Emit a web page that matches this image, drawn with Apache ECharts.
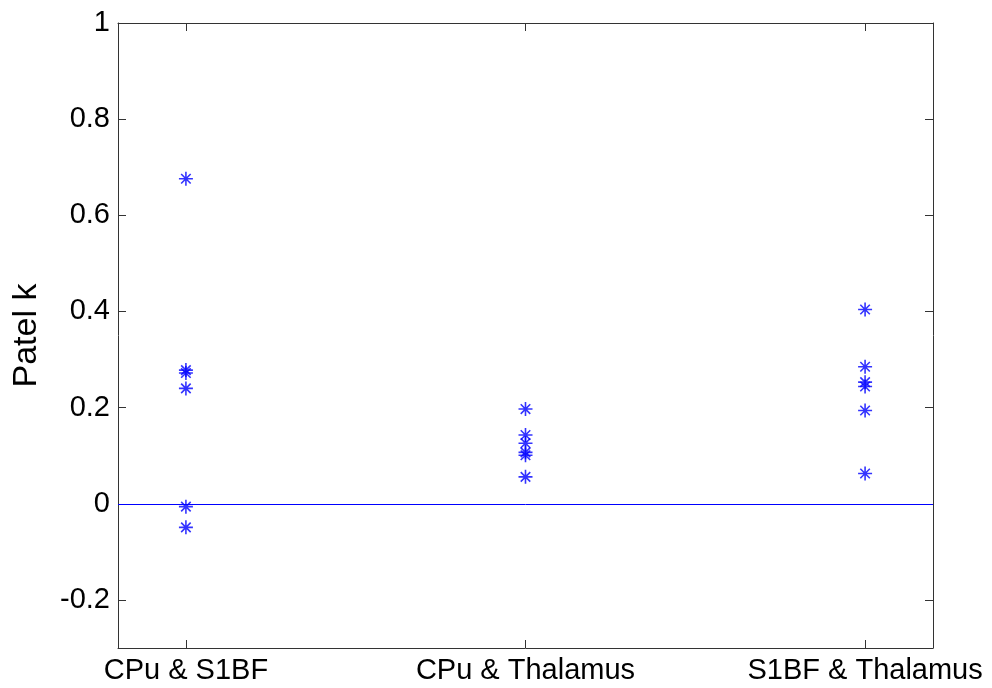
<!DOCTYPE html>
<html>
<head>
<meta charset="utf-8">
<script src="https://cdn.jsdelivr.net/npm/echarts@6/dist/echarts.min.js"></script>
<style>
  html, body { margin: 0; padding: 0; background: #fff; }
  #chart { width: 992px; height: 688px; }
</style>
</head>
<body>
<div id="chart"></div>
<script>
// 分组名称（横轴刻度标签）
const categories = ['CPu & S1BF', 'CPu & Thalamus', 'S1BF & Thalamus'];
// 每组的 Patel k 数值
const cpuS1bf = [0.676, 0.278, 0.272, 0.240, -0.006, -0.049];
const cpuThalamus = [0.197, 0.143, 0.126, 0.107, 0.101, 0.056];
const s1bfThalamus = [0.404, 0.285, 0.253, 0.244, 0.194, 0.063];
// 纵轴刻度
const yTicks = [-0.2, 0, 0.2, 0.4, 0.6, 0.8, 1];
const xTicks = [1, 2, 3];

const groups = [cpuS1bf, cpuThalamus, s1bfThalamus];
const points = [];
groups.forEach(function (vals, i) {
    vals.forEach(function (v) {
        points.push([xTicks[i], v]);
    });
});

const FONT = "'Liberation Sans', Arial, sans-serif";
const AXIS_COLOR = '#333';
const asterisk = 'path://M5,0L5,10M0,5L10,5M1.6,1.6L8.4,8.4M1.6,8.4L8.4,1.6';

const chart = echarts.init(document.getElementById('chart'));

const tickStyle = { show: true, inside: true, length: 8, lineStyle: { color: AXIS_COLOR, width: 1 } };
const lineStyle = { show: true, onZero: false, lineStyle: { color: AXIS_COLOR, width: 1 } };

chart.setOption({
    animation: false,
    grid: { left: 118, top: 23, right: 59, bottom: 40 },
    xAxis: [
        {
            type: 'value', min: 0.8, max: 3.2, position: 'bottom',
            axisLine: lineStyle,
            axisTick: Object.assign({ customValues: xTicks }, tickStyle),
            axisLabel: {
                customValues: xTicks, margin: 8,
                color: '#000', fontFamily: FONT, fontSize: 29,
                formatter: function (v) { return categories[Math.round(v) - 1]; }
            },
            splitLine: { show: false }
        },
        {
            type: 'value', min: 0.8, max: 3.2, position: 'top',
            axisLine: lineStyle,
            axisTick: Object.assign({ customValues: xTicks }, tickStyle),
            axisLabel: { show: false },
            splitLine: { show: false }
        }
    ],
    yAxis: [
        {
            type: 'value', min: -0.3, max: 1, position: 'left',
            name: 'Patel k', nameLocation: 'middle', nameGap: 74,
            nameTextStyle: { color: '#000', fontFamily: FONT, fontSize: 34 },
            axisLine: lineStyle,
            axisTick: Object.assign({ customValues: yTicks }, tickStyle),
            axisLabel: {
                customValues: yTicks, margin: 8,
                color: '#000', fontFamily: FONT, fontSize: 29,
                formatter: function (v) { return String(v); }
            },
            splitLine: { show: false }
        },
        {
            type: 'value', min: -0.3, max: 1, position: 'right',
            axisLine: lineStyle,
            axisTick: Object.assign({ customValues: yTicks }, tickStyle),
            axisLabel: { show: false },
            splitLine: { show: false }
        }
    ],
    series: [
        {
            type: 'scatter',
            data: points,
            symbol: asterisk,
            symbolSize: 14,
            itemStyle: { color: '#0000ff', borderColor: '#0000ff', borderWidth: 1.6 },
            markLine: {
                silent: true,
                symbol: 'none',
                label: { show: false },
                lineStyle: { color: '#0000ff', width: 1, type: 'solid' },
                data: [{ yAxis: 0 }]
            }
        }
    ]
});
</script>
</body>
</html>
